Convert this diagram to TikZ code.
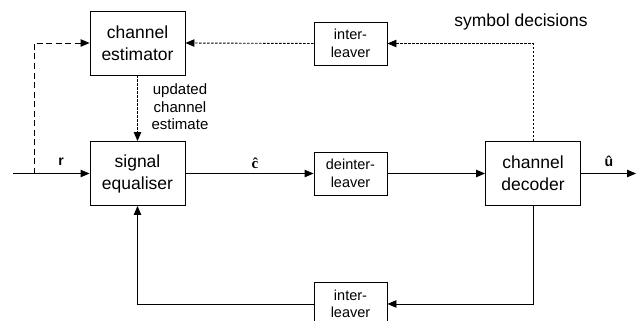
\documentclass[tikz,border=0pt]{standalone}
\usepackage{fontspec}
\setmainfont{Liberation Sans}
\newfontfamily\serifb{Liberation Serif}
\usetikzlibrary{arrows.meta}
\begin{document}
\begin{tikzpicture}[x=1pt,y=-1pt,
  blk/.style={draw,line width=0.9pt,minimum width=#1,inner sep=0pt,align=center},
  big/.style={blk=95pt,minimum height=64pt,font=\fontsize{17.5}{22}\selectfont},
  small/.style={blk=73pt,minimum height=43pt,font=\fontsize{14.5}{17.5}\selectfont},
  con/.style={line width=0.9pt,-{Triangle[length=9pt,width=7.5pt]}},
  dsh/.style={con,dash pattern=on 6pt off 3.5pt},
  dot/.style={con,dash pattern=on 2.5pt off 1.5pt},
  lbl/.style={font=\fontsize{15}{17.5}\selectfont,align=center,inner sep=0pt}]
\useasboundingbox (0,0) rectangle (642,321);
\clip (0,0) rectangle (642,321);
\node[big] (est) at (137.5,43) {channel\\estimator};
\node[big] (eq) at (137.5,173.5) {signal\\equaliser};
\node[small] (il1) at (350.5,43.5) {inter-\\leaver};
\node[small] (dil) at (350.5,173.5) {deinter-\\leaver};
\node[big] (dec) at (533,173.5) {channel\\decoder};
\node[small,anchor=north] (il2) at (350.5,282) {inter-\\leaver};
\coordinate (in) at (13,173.5);
\coordinate (br) at (34,173.5);
\coordinate (out) at (636,173.5);
\draw[con] (in) -- (eq.west);
\draw[dsh] (br) |- (est.west);
\draw[dot] (est.south) -- (eq.north);
\draw[con] (eq.east) -- (dil.west);
\draw[con] (dil.east) -- (dec.west);
\draw[con] (dec.east) -- (out);
\draw[dot] (dec.north) |- (il1.east);
\draw[dot] (il1.west) -- (est.east);
\draw[con] (dec.south) |- (il2.east);
\draw[con] (il2.west) -| (eq.south);
\node[lbl,font=\fontsize{14}{14}\bfseries] (r) at (61,162) {r};
\node[lbl,font=\fontsize{15}{15}\serifb\bfseries] (ch) at (255,163) {ĉ};
\node[lbl,font=\fontsize{14}{14}\bfseries] (uh) at (609,161) {û};
\node[lbl] (upd) at (180,107) {updated\\channel\\estimate};
\node[lbl,font=\fontsize{17.5}{17.5}\selectfont] (sd) at (521,22) {symbol decisions};
\end{tikzpicture}
\end{document}
